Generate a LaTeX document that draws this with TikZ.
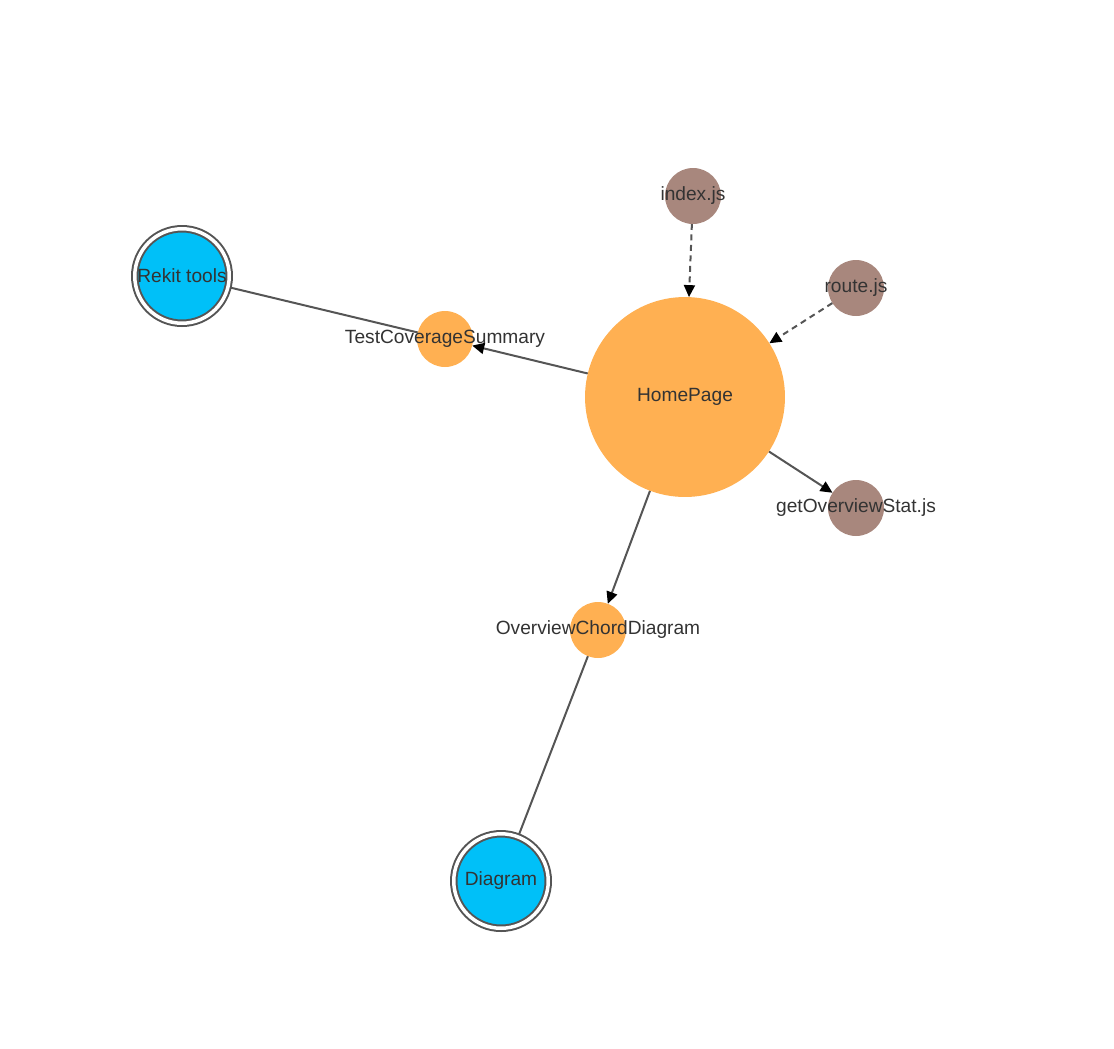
\documentclass[tikz,border=0pt]{standalone}
\usepackage{fontspec}
\setmainfont{Liberation Sans}
\usetikzlibrary{arrows.meta,positioning,backgrounds}
\definecolor{comporange}{HTML}{FFB052}
\definecolor{filebrown}{HTML}{A8877D}
\definecolor{featblue}{HTML}{00C0F8}
\definecolor{edgegray}{HTML}{555555}
\definecolor{txtgray}{HTML}{333333}
\tikzset{
  nd style/.style={circle, inner sep=0pt, outer sep=0pt, minimum size=1.12cm},
  comp style/.style={nd style, fill=comporange},
  file style/.style={nd style, fill=filebrown},
  feat style/.style={nd style, fill=featblue, draw=edgegray, line width=0.04cm,
    double=white, double distance=0.07cm, minimum size=1.89cm, outer sep=0.055cm},
  lbl style/.style={font=\fontsize{10.9}{13}\selectfont, text=txtgray, inner sep=0pt},
  arr style/.style={-{Triangle[length=0.24cm, width=0.22cm, color=black]}, draw=edgegray, line width=0.04cm},
  dep style/.style={arr style, dash pattern=on 0.12cm off 0.09cm},
  link style/.style={draw=edgegray, line width=0.04cm}
}
\begin{document}
\begin{tikzpicture}[x=0.02cm, y=-0.02cm]
\useasboundingbox (0,0) rectangle (1114,1048);

\node[comp style, minimum size=4cm, label={[lbl style]center:HomePage}] (home) at (685,397) {};
\node[comp style, label={[lbl style]center:TestCoverageSummary}] (tcs) at (445,339) {};
\node[comp style, label={[lbl style]center:OverviewChordDiagram}] (ocd) at (598,630) {};
\node[file style, label={[lbl style]center:index.js}] (idx) at (693,196) {};
\node[file style, label={[lbl style]center:route.js}] (route) at (856,288) {};
\node[file style, label={[lbl style]center:getOverviewStat.js}] (stat) at (856,508) {};
\node[feat style, label={[lbl style]center:Rekit tools}] (rekit) at (182,276) {};
\node[feat style, label={[lbl style]center:Diagram}] (diagram) at (501,881) {};

\begin{scope}[on background layer]
\draw[dep style] (idx)--(home);
\draw[dep style] (route)--(home);
\draw[arr style] (home)--(tcs);
\draw[arr style] (home)--(stat);
\draw[arr style] (home)--(ocd);
\draw[link style] (rekit)--(tcs);
\draw[link style] (ocd)--(diagram);
\end{scope}

\end{tikzpicture}
\end{document}
